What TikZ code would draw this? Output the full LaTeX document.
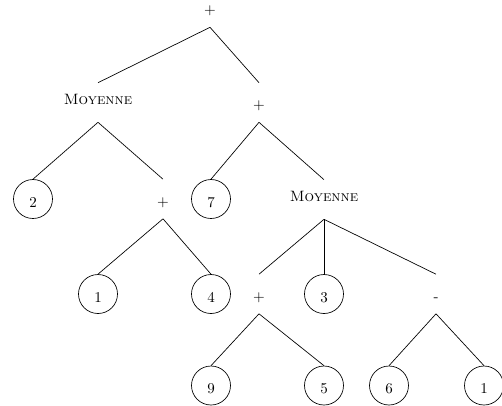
\documentclass[tikz,border=0pt]{standalone}
\begin{document}
\begin{tikzpicture}[x=0.6667pt,y=-0.6667pt,
  every node/.style={inner sep=0pt, minimum height=26pt, minimum width=26pt},
  leaf/.style={circle, draw, line width=0.45pt, text height=11.1pt, text depth=0pt},
  op/.style={rectangle, text height=9.67pt, text depth=0pt},
  fn/.style={rectangle, text height=6.83pt, text depth=4.69pt},
  link/.style={draw, line width=0.45pt}]
\useasboundingbox (0,0) rectangle (502,405);

% operators and functions
\node[op] (r)  at (210,7.5)   {+};
\node[fn] (m1) at (98,102.5)  {\textsc{Moyenne}};
\node[op] (p1) at (259,102.5) {+};
\node[op] (p2) at (163,199)   {+};
\node[fn] (m2) at (324,199.5) {\textsc{Moyenne}};
\node[op] (p3) at (259,294)   {+};
\node[op] (mi) at (436,294)   {-};

% operands
\node[leaf] (c2)  at (33,199)    {2};
\node[leaf] (c7)  at (211,199)   {7};
\node[leaf] (c1)  at (98,294)    {1};
\node[leaf] (c4)  at (211,294)   {4};
\node[leaf] (c3)  at (324,294)   {3};
\node[leaf] (c9)  at (211,385.5) {9};
\node[leaf] (c5)  at (324,385.5) {5};
\node[leaf] (c6)  at (389,385.5) {6};
\node[leaf] (c1b) at (484,385.5) {1};

% tree edges
\foreach \p/\c in {r/m1, r/p1, m1/c2, m1/p2, p1/c7, p1/m2, p2/c1, p2/c4,
                   m2/p3, m2/c3, m2/mi, p3/c9, p3/c5, mi/c6, mi/c1b}
  \draw[link] (\p.south) -- (\c.north);
\end{tikzpicture}
\end{document}
